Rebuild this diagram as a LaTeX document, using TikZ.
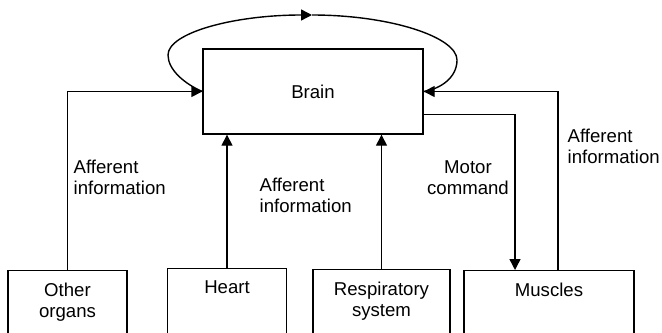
\documentclass[tikz,border=0pt]{standalone}
\usepackage{fontspec}
\setmainfont{Liberation Sans}
\usetikzlibrary{arrows.meta,positioning}

\tikzset{
    organ/.style={draw, anchor=north, minimum height=40pt, inner sep=0pt},
    organtext/.style={align=center, inner sep=0pt},
    note/.style={align=left, anchor=west, inner sep=0pt},
    feed/.style={-{Triangle[length=5.5pt,width=5.5pt]}}
}

\begin{document}
\begin{tikzpicture}[x=0.5pt,y=0.5pt,line width=0.7pt,
    font=\fontsize{9.3}{10.6}\selectfont]
    \useasboundingbox (0,0) rectangle (662,-332);
    \clip (0,0) rectangle (662,-332);

    % brain
    \node[draw, minimum width=110pt, minimum height=42.5pt, inner sep=0pt]
        (brain) at (313,-91.5) {Brain};

    % organs
    \node[organ, minimum width=59.5pt] (other) at (67.5,-270) {};
    \node[organ, minimum width=59.5pt] (heart) at (227,-268) {};
    \node[organ, minimum width=68.5pt] (resp) at (381.5,-269) {};
    \node[organ, minimum width=85pt] (muscles) at (549,-270) {};

    \node[organtext, below=6pt of other.north] (otherlbl) {Other\\organs};
    \node[organtext, below=6pt of heart.north] (heartlbl) {Heart};
    \node[organtext, below=6pt of resp.north] (resplbl) {Respiratory\\system};
    \node[organtext, below=6pt of muscles.north] (muscleslbl) {Muscles};

    % loop over the brain
    \coordinate (looptop) at (312,-15);
    \draw[feed] (brain.west) .. controls (185,-84) and (168,-70) .. (168,-55)
        .. controls (168,-33) and (233,-15) .. (looptop);
    \draw (looptop) .. controls (390,-15) and (457,-37) .. (457,-60)
        .. controls (457,-78) and (440,-89) .. (brain.east);

    % afferent and motor lines
    \draw[feed] (other.north) |- (brain.west);
    \draw[feed] (heart.north) -- (heart.north |- brain.south);
    \draw[feed] (resp.north) -- (resp.north |- brain.south);
    \draw[feed] ([yshift=10pt]brain.south east) -| ([xshift=-17pt]muscles.north);
    \draw[feed] ([xshift=4.5pt]muscles.north) |- (brain.east);

    % labels
    \node[note] (affother) at (73,-177.5) {Afferent\\information};
    \node[note] (affheart) at (259,-195) {Afferent\\information};
    \node[align=center, inner sep=0pt] (motor) at (468,-177.5) {Motor\\command};
    \node[note] (affmuscles) at (567,-146) {Afferent\\information};
\end{tikzpicture}
\end{document}
